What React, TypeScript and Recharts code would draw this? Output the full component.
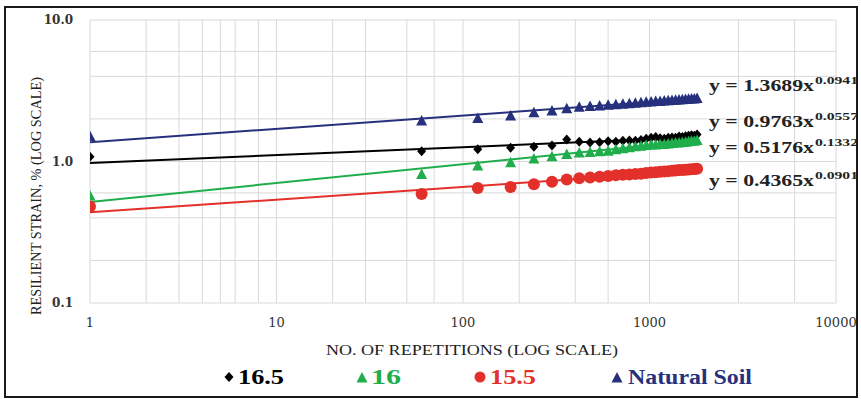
import React from "react";
import { ScatterChart, Scatter, XAxis, YAxis, CartesianGrid } from "recharts";

// number of load repetitions
const reps = [
  1, 60, 120, 180, 240, 300, 360, 420, 480, 540, 600, 660, 720, 780, 840, 900,
  960, 1020, 1080, 1140, 1200, 1260, 1320, 1380, 1440, 1500, 1560, 1620, 1680,
  1740, 1800,
];

// resilient strain (%) per series
const strain165 = [
  1.08, 1.18, 1.22, 1.25, 1.27, 1.3, 1.43, 1.38, 1.36, 1.37, 1.39, 1.38, 1.4,
  1.41, 1.4, 1.42, 1.45, 1.47, 1.49, 1.46, 1.45, 1.47, 1.48, 1.47, 1.5, 1.49,
  1.51, 1.52, 1.53, 1.52, 1.55,
];
const strain16 = [
  0.57, 0.81, 0.93, 0.98, 1.04, 1.08, 1.12, 1.15, 1.16, 1.17, 1.18, 1.21, 1.23,
  1.25, 1.27, 1.28, 1.3, 1.31, 1.31, 1.32, 1.32, 1.33, 1.34, 1.35, 1.35, 1.36,
  1.37, 1.38, 1.39, 1.39, 1.41,
];
const strain155 = [
  0.48, 0.59, 0.65, 0.66, 0.69, 0.72, 0.745, 0.76, 0.77, 0.78, 0.79, 0.8,
  0.805, 0.81, 0.815, 0.82, 0.83, 0.835, 0.84, 0.845, 0.85, 0.855, 0.86, 0.865,
  0.87, 0.872, 0.875, 0.878, 0.88, 0.885, 0.89,
];
const strainNatural = [
  1.5, 1.93, 2.01, 2.1, 2.21, 2.27, 2.36, 2.42, 2.45, 2.47, 2.5, 2.52, 2.54,
  2.56, 2.58, 2.6, 2.62, 2.63, 2.65, 2.66, 2.68, 2.69, 2.7, 2.71, 2.72, 2.73,
  2.74, 2.75, 2.76, 2.77, 2.79,
];

// power trendlines (straight on log-log), end values
const trendReps = [1, 1800];
const trend165 = [0.976, 1.482];
const trend16 = [0.518, 1.405];
const trend155 = [0.437, 0.858];
const trendNatural = [1.369, 2.771];

const equations = [
  { coef: "y = 1.3689x", exp: "0.0941" },
  { coef: "y = 0.9763x", exp: "0.0557" },
  { coef: "y = 0.5176x", exp: "0.1332" },
  { coef: "y = 0.4365x", exp: "0.0901" },
];

const xTicks = [1, 10, 100, 1000, 10000];
const yTicks = [0.1, 1, 10];
const xGrid = [
  1, 2, 3, 4, 5, 6, 7, 8, 9, 10, 20, 30, 40, 50, 60, 70, 80, 90, 100, 200, 300,
  400, 500, 600, 700, 800, 900, 1000, 2000, 3000, 4000, 5000, 6000, 7000, 8000,
  9000, 10000,
];
const yGrid = [
  0.1, 0.2, 0.3, 0.4, 0.5, 0.6, 0.7, 0.8, 0.9, 1, 2, 3, 4, 5, 6, 7, 8, 9, 10,
];

const BLACK = "#000000";
const GREEN = "#1fae4b";
const RED = "#e3302a";
const NAVY = "#27307c";
const SERIF = "'Liberation Serif', 'Times New Roman', serif";

const toPoints = (xs: number[], ys: number[]) =>
  xs.map((x, i) => ({ x, y: ys[i] }));

const Diamond = ({ cx, cy, fill }: any) => (
  <polygon
    points={`${cx},${cy - 5} ${cx + 4.5},${cy} ${cx},${cy + 5} ${cx - 4.5},${cy}`}
    fill={fill}
  />
);
const Tri = ({ cx, cy, fill }: any) => (
  <polygon
    points={`${cx},${cy - 6} ${cx + 5.5},${cy + 4.5} ${cx - 5.5},${cy + 4.5}`}
    fill={fill}
  />
);
const Dot = ({ cx, cy, fill }: any) => (
  <circle cx={cx} cy={cy} r={6} fill={fill} />
);
const Nothing = () => <g />;

const xTickStyle = { fontFamily: "'DejaVu Serif', serif", fontSize: 13, fill: "#333" };
const yTickStyle = { fontFamily: "'DejaVu Serif', serif", fontSize: 12, fontWeight: "bold", fill: "#333" };

export default function App() {
  const series = [
    { name: "16.5", pts: toPoints(reps, strain165), trend: toPoints(trendReps, trend165), color: BLACK, shape: Diamond },
    { name: "16", pts: toPoints(reps, strain16), trend: toPoints(trendReps, trend16), color: GREEN, shape: Tri },
    { name: "15.5", pts: toPoints(reps, strain155), trend: toPoints(trendReps, trend155), color: RED, shape: Dot },
    { name: "Natural Soil", pts: toPoints(reps, strainNatural), trend: toPoints(trendReps, trendNatural), color: NAVY, shape: Tri },
  ];
  const eqBase = [91, 127, 153, 186];

  return (
    <div style={{ position: "absolute", left: 0, top: 0, width: 861, height: 399, background: "#fff" }}>
      <ScatterChart
        width={861}
        height={399}
        margin={{ top: 20, right: 25, bottom: 66, left: 30 }}
      >
        <CartesianGrid
          stroke="#d9d9d9"
          strokeWidth={1}
          verticalValues={xGrid}
          horizontalValues={yGrid}
        />
        <XAxis
          type="number"
          dataKey="x"
          scale="log"
          domain={[1, 10000]}
          ticks={xTicks}
          allowDataOverflow
          axisLine={false}
          tickLine={false}
          tickSize={0}
          tickMargin={15}
          height={30}
          tick={xTickStyle}
        />
        <YAxis
          type="number"
          dataKey="y"
          scale="log"
          domain={[0.1, 10]}
          ticks={yTicks}
          allowDataOverflow
          axisLine={false}
          tickLine={false}
          tickSize={0}
          tickMargin={17}
          width={60}
          tick={yTickStyle}
          tickFormatter={(v: number) => v.toFixed(1)}
        />
        {series.map((s) => (
          <Scatter
            key={"t" + s.name}
            data={s.trend}
            line={{ stroke: s.color, strokeWidth: 2 }}
            shape={Nothing}
            isAnimationActive={false}
          />
        ))}
        {series.map((s) => (
          <Scatter
            key={"p" + s.name}
            data={s.pts}
            fill={s.color}
            shape={s.shape}
            isAnimationActive={false}
          />
        ))}
      </ScatterChart>

      <svg
        width={861}
        height={399}
        style={{ position: "absolute", left: 0, top: 0, pointerEvents: "none" }}
      >
        <text
          transform="translate(41,196) rotate(-90)"
          textAnchor="middle"
          fontFamily={SERIF}
          fontSize={14}
          fill="#222"
          textLength={238}
          lengthAdjust="spacingAndGlyphs"
        >
          RESILIENT STRAIN, % (LOG SCALE)
        </text>
        <text
          x={326}
          y={355}
          fontFamily={SERIF}
          fontSize={14}
          fill="#222"
          textLength={292}
          lengthAdjust="spacingAndGlyphs"
        >
          NO. OF REPETITIONS (LOG SCALE)
        </text>

        {equations.map((e, i) => (
          <g key={e.exp} fontFamily={SERIF} fontWeight="bold" fill="#222">
            <text x={709} y={eqBase[i]} fontSize={16} textLength={105} lengthAdjust="spacingAndGlyphs">
              {e.coef}
            </text>
            <text x={815} y={eqBase[i] - 7} fontSize={11} textLength={43} lengthAdjust="spacingAndGlyphs">
              {e.exp}
            </text>
          </g>
        ))}

        <g fontFamily={SERIF} fontWeight="bold" fontSize={20}>
          <Diamond cx={229} cy={377} fill={BLACK} />
          <text x={238} y={384} fill={BLACK} textLength={46} lengthAdjust="spacingAndGlyphs">16.5</text>
          <Tri cx={362} cy={378} fill={GREEN} />
          <text x={371} y={384} fill={GREEN} textLength={30} lengthAdjust="spacingAndGlyphs">16</text>
          <circle cx={480} cy={377} r={5.5} fill={RED} />
          <text x={490} y={384} fill={RED} textLength={46} lengthAdjust="spacingAndGlyphs">15.5</text>
          <Tri cx={617} cy={378} fill={NAVY} />
          <text x={628} y={384} fill={NAVY} textLength={124} lengthAdjust="spacingAndGlyphs">Natural Soil</text>
        </g>
      </svg>

      <div
        style={{
          position: "absolute",
          left: 4,
          top: 6,
          width: 854,
          height: 392,
          boxSizing: "border-box",
          border: "2px solid #1a1a1a",
          pointerEvents: "none",
        }}
      />
    </div>
  );
}
